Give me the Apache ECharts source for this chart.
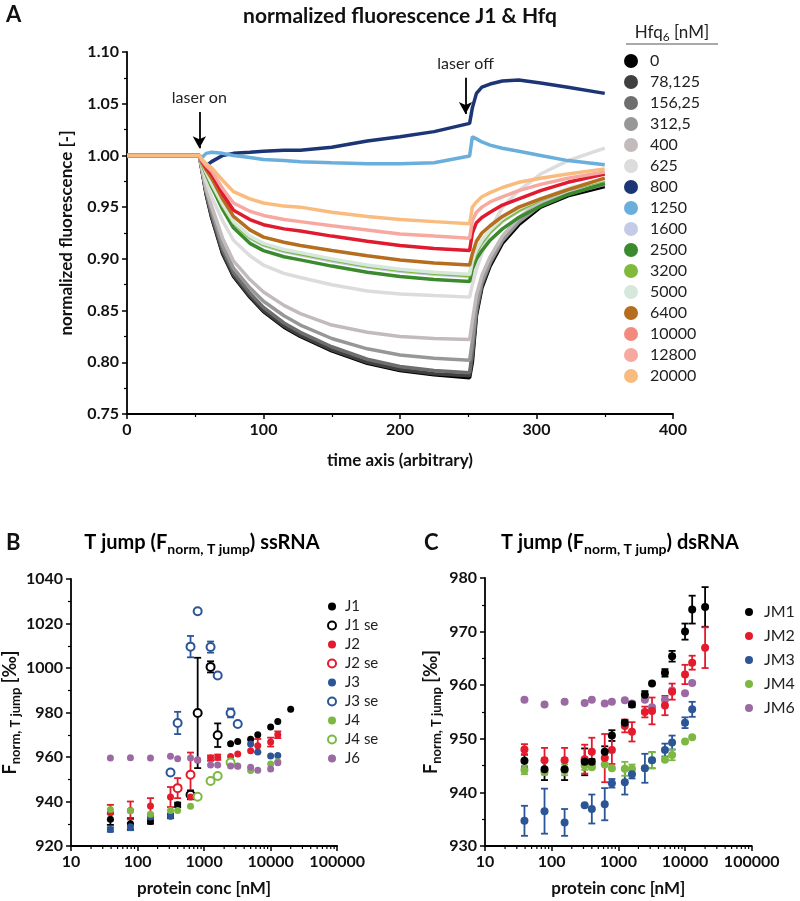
<!DOCTYPE html>
<html>
<head>
<meta charset="utf-8">
<title>T jump</title>
<script src="https://cdn.jsdelivr.net/npm/echarts@6/dist/echarts.min.js"></script>
<style>
  html, body { margin: 0; padding: 0; background: #fff; }
  #main { width: 800px; height: 901px; }
</style>
</head>
<body>
<div id="main"></div>
<script>
// ---- panel A: normalized fluorescence vs time, one array per Hfq6 concentration
var tA = [0, 20, 40, 53, 55, 58, 62, 70, 78, 90, 100, 115, 127, 150, 176, 200, 225, 251, 253, 256, 260, 266, 275, 287, 303, 323, 350];
var hfqNames = ['0', '78,125', '156,25', '312,5', '400', '625', '800', '1250', '1600', '2500', '3200', '5000', '6400', '10000', '12800', '20000'];
var hfqColors = ['#000000', '#404040', '#6e6e6e', '#979797', '#c3bbbb', '#dcdcdc', '#1c3574', '#6aaedc', '#c4cbe6', '#3b8a2e', '#80ba3a', '#d6e8dc', '#b56d1e', '#e01b30', '#f7a8a0', '#f9bb7e'];
var f0     = [1.000, 1.000, 1.000, 1.000, 0.985, 0.962, 0.940, 0.905, 0.883, 0.863, 0.849, 0.834, 0.825, 0.811, 0.799, 0.792, 0.788, 0.785, 0.800, 0.845, 0.872, 0.893, 0.915, 0.933, 0.950, 0.961, 0.970];
var f78    = [1.000, 1.000, 1.000, 1.000, 0.985, 0.963, 0.941, 0.906, 0.884, 0.864, 0.850, 0.835, 0.826, 0.812, 0.800, 0.793, 0.789, 0.787, 0.805, 0.848, 0.874, 0.895, 0.917, 0.935, 0.952, 0.963, 0.972];
var f156   = [1.000, 1.000, 1.000, 1.000, 0.986, 0.964, 0.943, 0.909, 0.887, 0.867, 0.853, 0.838, 0.829, 0.815, 0.803, 0.796, 0.792, 0.790, 0.810, 0.850, 0.876, 0.896, 0.918, 0.936, 0.953, 0.964, 0.973];
var f312   = [1.000, 1.000, 1.000, 1.000, 0.986, 0.966, 0.947, 0.913, 0.891, 0.872, 0.859, 0.845, 0.836, 0.823, 0.813, 0.807, 0.804, 0.802, 0.820, 0.855, 0.878, 0.897, 0.918, 0.936, 0.952, 0.963, 0.972];
var f400   = [1.000, 1.000, 1.000, 1.000, 0.987, 0.968, 0.951, 0.920, 0.898, 0.880, 0.868, 0.855, 0.847, 0.836, 0.829, 0.825, 0.823, 0.822, 0.840, 0.865, 0.884, 0.902, 0.922, 0.940, 0.955, 0.966, 0.975];
var f625   = [1.000, 1.000, 1.000, 1.000, 0.990, 0.975, 0.960, 0.937, 0.918, 0.903, 0.894, 0.886, 0.882, 0.875, 0.869, 0.866, 0.8645, 0.863, 0.875, 0.890, 0.905, 0.928, 0.950, 0.966, 0.982, 0.995, 1.007];
var f800   = [1.000, 1.000, 1.000, 1.000, 0.992, 0.990, 0.994, 1.000, 1.002, 1.003, 1.004, 1.005, 1.005, 1.008, 1.014, 1.018, 1.023, 1.031, 1.046, 1.060, 1.066, 1.069, 1.072, 1.073, 1.070, 1.066, 1.060];
var f1250  = [1.000, 1.000, 1.000, 1.000, 0.998, 1.002, 1.003, 1.002, 1.000, 0.998, 0.996, 0.995, 0.994, 0.993, 0.992, 0.992, 0.993, 0.9995, 1.018, 1.016, 1.013, 1.010, 1.007, 1.004, 1.000, 0.995, 0.991];
var f1600  = [1.000, 1.000, 1.000, 1.000, 0.992, 0.983, 0.972, 0.951, 0.934, 0.920, 0.913, 0.907, 0.904, 0.898, 0.892, 0.888, 0.885, 0.883, 0.895, 0.906, 0.915, 0.925, 0.936, 0.946, 0.956, 0.966, 0.975];
var f2500  = [1.000, 1.000, 1.000, 1.000, 0.992, 0.982, 0.970, 0.948, 0.930, 0.915, 0.908, 0.902, 0.899, 0.893, 0.887, 0.883, 0.880, 0.878, 0.890, 0.900, 0.908, 0.918, 0.929, 0.940, 0.951, 0.962, 0.973];
var f3200  = [1.000, 1.000, 1.000, 1.000, 0.992, 0.983, 0.972, 0.952, 0.935, 0.921, 0.914, 0.908, 0.905, 0.899, 0.893, 0.889, 0.886, 0.884, 0.896, 0.907, 0.916, 0.926, 0.937, 0.947, 0.957, 0.967, 0.976];
var f5000  = [1.000, 1.000, 1.000, 1.000, 0.993, 0.984, 0.973, 0.953, 0.936, 0.922, 0.915, 0.909, 0.906, 0.900, 0.894, 0.890, 0.887, 0.885, 0.898, 0.909, 0.918, 0.928, 0.939, 0.949, 0.958, 0.968, 0.977];
var f6400  = [1.000, 1.000, 1.000, 1.000, 0.993, 0.986, 0.978, 0.958, 0.941, 0.928, 0.921, 0.916, 0.913, 0.908, 0.903, 0.899, 0.896, 0.894, 0.905, 0.917, 0.925, 0.932, 0.941, 0.950, 0.958, 0.967, 0.978];
var f10000 = [1.000, 1.000, 1.000, 1.000, 0.994, 0.988, 0.982, 0.963, 0.947, 0.938, 0.933, 0.929, 0.927, 0.922, 0.917, 0.913, 0.910, 0.908, 0.925, 0.935, 0.940, 0.945, 0.952, 0.958, 0.966, 0.974, 0.982];
var f12800 = [1.000, 1.000, 1.000, 1.000, 0.995, 0.990, 0.985, 0.968, 0.954, 0.946, 0.942, 0.938, 0.936, 0.932, 0.928, 0.924, 0.922, 0.920, 0.937, 0.945, 0.950, 0.955, 0.960, 0.966, 0.972, 0.978, 0.984];
var f20000 = [1.000, 1.000, 1.000, 1.000, 0.996, 0.992, 0.988, 0.976, 0.965, 0.958, 0.954, 0.951, 0.950, 0.945, 0.941, 0.938, 0.936, 0.934, 0.950, 0.955, 0.960, 0.964, 0.969, 0.974, 0.978, 0.982, 0.987];
var curvesA = [f0, f78, f156, f312, f400, f625, f800, f1250, f1600, f2500, f3200, f5000, f6400, f10000, f12800, f20000];

// ---- panels B and C: concentrations [nM]
var conc = [39.0625, 78.125, 156.25, 312.5, 400, 625, 800, 1250, 1600, 2500, 3200, 5000, 6400, 10000, 12800, 20000];

// B ssRNA
var j1      = [932, 930, 931, 933.5, 938.5, null, null, null, null, 966, 967, 968, 970, 973.5, 976, 981.5];
var j1Err   = [2.5, 2.5, 1, 1, 1, 0, 0, 0, 0, 0, 0, 0, 0, 0, 0, 0];
var j1se    = [null, null, null, null, null, 943, 979.8, 1000.5, 969.8, null, null, null, null, null, null, null];
var j1seErr = [0, 0, 0, 0, 0, 2, 24.8, 2.5, 5.3, 0, 0, 0, 0, 0, 0, 0];
var j2      = [935, 936, 938, 942, null, 942, 958.5, 959.5, 959.9, 960.2, 961.4, 962.8, 965.1, 966.7, 970, null];
var j2Err   = [3.5, 4, 3.5, 4.5, 0, 0, 0, 1.2, 1.2, 0, 0, 0, 3, 2, 1.5, 0];
var j2se    = [null, null, null, null, 946, 952, null, null, null, null, null, null, null, null, null, null];
var j2seErr = [0, 0, 0, 0, 4.5, 10, 0, 0, 0, 0, 0, 0, 0, 0, 0, 0];
var j3      = [927.4, 928.6, 933, 933.5, null, null, null, null, null, null, null, 965.8, 962.2, 960.5, 960.7, null];
var j3Err   = [1, 1.5, 1, 1, 0, 0, 0, 0, 0, 0, 0, 0, 0, 0, 0, 0];
var j3se    = [null, null, null, 953, 975.3, 1009.6, 1025.5, 1009.4, 996.6, 979.8, 974.8, null, null, null, null, null];
var j3seErr = [0, 0, 0, 0, 5, 4.8, 0, 2.5, 0, 2, 0, 0, 0, 0, 0, 0];
var j4      = [936.4, 935.8, 934.3, 936, 936, 937.9, null, null, null, null, 956, 953.9, null, 956.9, 957.9, null];
var j4se    = [null, null, null, null, null, null, 942.1, 949.2, 951.5, 957.5, null, null, null, null, null, null];
var j6      = [959.6, 959.7, 959.6, 960.3, 959.2, 959.6, 958.8, 956.4, 956.4, 956, 955.8, 955.4, 954.1, 954.6, 957.4, null];

// C dsRNA
var jm1    = [945.9, 944.3, 944.3, 945.7, 945.7, 947.6, 950.6, 953, 956.4, 958.2, 960.3, 962.3, 965.4, 970, 974.1, 974.6];
var jm1Err = [1.2, 2, 2, 2.5, 0.5, 1, 1, 0.5, 0.5, 0.7, 0, 0.7, 1, 1.5, 2.6, 3.7];
var jm2    = [948, 946, 946, 946.2, 947.6, 946.4, 947.9, 952.4, 951.3, 955, 955.2, 956.2, 958.8, 962, 964.2, 967];
var jm2Err = [1, 2.3, 2.3, 2.7, 2.6, 4.5, 2.6, 1.2, 1.8, 1, 2.5, 1.8, 1.5, 1.8, 1.3, 3.8];
var jm3    = [934.7, 936.5, 934.4, 937.6, 936.9, 937.8, 941.7, 941.9, 943.4, 944.5, 946, 947.9, 949.3, 953, 955.5, null];
var jm3Err = [2.8, 4.2, 2.5, 0, 2.7, 3, 0.8, 2.3, 0.8, 2.7, 1.5, 1.2, 1.3, 1, 1.4, 0];
var jm4    = [944.2, 943.8, 944.2, 945, 944.7, 945.2, 944.5, 944.4, 944.4, 944.5, 946, 946.1, 947, 949.5, 950.3, null];
var jm4Err = [0.8, 0.5, 1, 0.8, 0.3, 0, 0, 1.3, 0.8, 0, 1.5, 0, 1, 0, 0, 0];
var jm6    = [957.3, 956.4, 956.9, 956.7, 957.3, 956.6, 956.9, 957.2, 956.6, 957.3, 955.9, 957.3, 959, 958.5, 960.4, null];

var BLACK = '#000000', RED = '#e31b2d', BLUE = '#2b5597', GREEN = '#7db843', PURPLE = '#9b6aa3';
var FONT = 'Lato';

function pts(vals) {
  var out = [];
  conc.forEach(function (c, i) { if (vals[i] != null) out.push([c, vals[i]]); });
  return out;
}
function errPts(vals, errs) {
  var out = [];
  conc.forEach(function (c, i) {
    if (vals[i] != null && errs[i] > 0) out.push([c, vals[i] - errs[i], vals[i] + errs[i]]);
  });
  return out;
}
function errSeries(grid, vals, errs, color) {
  return {
    type: 'custom', xAxisIndex: grid, yAxisIndex: grid, z: 3, silent: true,
    data: errPts(vals, errs),
    renderItem: function (params, api) {
      var hi = api.coord([api.value(0), api.value(2)]);
      var lo = api.coord([api.value(0), api.value(1)]);
      var w = 3.5;
      var st = { stroke: color, lineWidth: 1.8 };
      return { type: 'group', children: [
        { type: 'line', shape: { x1: hi[0], y1: hi[1], x2: lo[0], y2: lo[1] }, style: st },
        { type: 'line', shape: { x1: hi[0] - w, y1: hi[1], x2: hi[0] + w, y2: hi[1] }, style: st },
        { type: 'line', shape: { x1: lo[0] - w, y1: lo[1], x2: lo[0] + w, y2: lo[1] }, style: st }
      ] };
    }
  };
}
function dotSeries(grid, name, vals, color, size) {
  return { type: 'scatter', name: name, xAxisIndex: grid, yAxisIndex: grid, z: 4,
    symbol: 'circle', symbolSize: size, itemStyle: { color: color, opacity: 1 }, data: pts(vals) };
}
function ringSeries(grid, name, vals, color) {
  return { type: 'scatter', name: name, xAxisIndex: grid, yAxisIndex: grid, z: 4,
    symbol: 'circle', symbolSize: 8,
    itemStyle: { color: '#fff', borderColor: color, borderWidth: 2, opacity: 1 }, data: pts(vals) };
}
// minor ticks 2..9 per decade on the log axes
var logMinor = [];
[10, 100, 1000, 10000].forEach(function (d) { for (var k = 2; k <= 9; k++) logMinor.push(k * d); });
function logMinorSeries(grid, ymin) {
  return {
    type: 'custom', xAxisIndex: grid, yAxisIndex: grid, silent: true, clip: false,
    data: logMinor.map(function (v) { return [v, ymin]; }),
    renderItem: function (params, api) {
      var p = api.coord([api.value(0), api.value(1)]);
      return { type: 'line', shape: { x1: p[0], y1: p[1], x2: p[0], y2: p[1] + 3 }, style: { stroke: '#000', lineWidth: 1.2 } };
    }
  };
}

var LABEL = { color: '#111', fontFamily: FONT, fontWeight: 'bold', fontSize: 16 };
function axisBase(extra) {
  var a = {
    axisLine: { lineStyle: { color: '#000', width: 1.8 } },
    axisTick: { lineStyle: { color: '#000', width: 1.5 }, length: 5 },
    minorTick: { show: true, splitNumber: 2, length: 3, lineStyle: { color: '#000', width: 1.2 } },
    splitLine: { show: false },
    axisLabel: LABEL,
    nameTextStyle: { color: '#111', fontFamily: FONT, fontWeight: 'bold', fontSize: 17 }
  };
  for (var k in extra) a[k] = extra[k];
  return a;
}

var subRich = {
  m: { fontFamily: FONT, fontWeight: 'bold', fontSize: 18, color: '#111', lineHeight: 24, verticalAlign: 'middle' },
  s: { fontFamily: FONT, fontWeight: 'bold', fontSize: 13, color: '#111', lineHeight: 13, verticalAlign: 'bottom' }
};
var titleRich = {
  m: { fontFamily: FONT, fontWeight: 'bold', fontSize: 20, color: '#111', lineHeight: 26, verticalAlign: 'middle' },
  s: { fontFamily: FONT, fontWeight: 'bold', fontSize: 14, color: '#111', lineHeight: 14, verticalAlign: 'bottom' }
};

var series = [];
curvesA.forEach(function (vals, k) {
  series.push({
    type: 'line', name: hfqNames[k], xAxisIndex: 0, yAxisIndex: 0,
    showSymbol: false, symbol: 'circle', smooth: false,
    lineStyle: { width: 3.5, color: hfqColors[k] }, itemStyle: { color: hfqColors[k] },
    data: tA.map(function (t, i) { return [t, vals[i]]; })
  });
});
// laser annotations
series[6].markLine = {
  silent: true, symbol: ['none', 'arrow'], symbolSize: [10, 12],
  lineStyle: { color: '#000', width: 1.8, type: 'solid' },
  label: { position: 'start', distance: 6, color: '#222', fontFamily: FONT, fontSize: 16 },
  data: [
    [{ coord: [53, 1.042], label: { formatter: 'laser on' } }, { coord: [53, 1.007] }],
    [{ coord: [248, 1.075], label: { formatter: 'laser off' } }, { coord: [248, 1.040] }]
  ]
};

// panel B
series.push(logMinorSeries(1, 920));
series.push(errSeries(1, j1, j1Err, BLACK), errSeries(1, j1se, j1seErr, BLACK),
  errSeries(1, j2, j2Err, RED), errSeries(1, j2se, j2seErr, RED),
  errSeries(1, j3, j3Err, BLUE), errSeries(1, j3se, j3seErr, BLUE));
series.push(dotSeries(1, 'J1', j1, BLACK, 7), ringSeries(1, 'J1 se', j1se, BLACK),
  dotSeries(1, 'J2', j2, RED, 7), ringSeries(1, 'J2 se', j2se, RED),
  dotSeries(1, 'J3', j3, BLUE, 7), ringSeries(1, 'J3 se', j3se, BLUE),
  dotSeries(1, 'J4', j4, GREEN, 7), ringSeries(1, 'J4 se', j4se, GREEN),
  dotSeries(1, 'J6', j6, PURPLE, 7));

// panel C
series.push(logMinorSeries(2, 930));
series.push(errSeries(2, jm1, jm1Err, BLACK), errSeries(2, jm2, jm2Err, RED),
  errSeries(2, jm3, jm3Err, BLUE), errSeries(2, jm4, jm4Err, GREEN));
series.push(dotSeries(2, 'JM6', jm6, PURPLE, 8), dotSeries(2, 'JM4', jm4, GREEN, 8),
  dotSeries(2, 'JM3', jm3, BLUE, 8), dotSeries(2, 'JM2', jm2, RED, 8), dotSeries(2, 'JM1', jm1, BLACK, 8));

function plainNum(v) { return String(Math.round(v)); }
function logAxis(grid) {
  return axisBase({
    gridIndex: grid, type: 'log', logBase: 10, min: 10, max: 100000,
    minorTick: { show: false },
    name: 'protein conc [nM]', nameLocation: 'middle', nameGap: 34,
    axisLabel: { color: '#111', fontFamily: FONT, fontWeight: 'bold', fontSize: 16, margin: 8, formatter: plainNum }
  });
}
function valLabel(fmt) {
  return { color: '#111', fontFamily: FONT, fontWeight: 'bold', fontSize: 16, formatter: fmt };
}

var option = {
  backgroundColor: '#fff',
  animation: false,
  grid: [
    { left: 127, top: 52, width: 546, height: 362 },
    { left: 70.5, top: 579, width: 266.7, height: 267 },
    { left: 485, top: 578, width: 266.7, height: 268 }
  ],
  xAxis: [
    axisBase({ gridIndex: 0, type: 'value', min: 0, max: 400, interval: 100,
      name: 'time axis (arbitrary)', nameLocation: 'middle', nameGap: 38 }),
    logAxis(1),
    logAxis(2)
  ],
  yAxis: [
    axisBase({ gridIndex: 0, type: 'value', min: 0.75, max: 1.10, interval: 0.05,
      axisLabel: valLabel(function (v) { return v.toFixed(2); }),
      name: 'normalized fluorescence [-]', nameLocation: 'middle', nameGap: 52 }),
    axisBase({ gridIndex: 1, type: 'value', min: 920, max: 1040, interval: 20,
      axisLabel: valLabel(plainNum),
      name: '{m|F}{s|norm, T jump}{m| [‰]}', nameLocation: 'middle', nameGap: 46,
      nameTextStyle: { rich: subRich } }),
    axisBase({ gridIndex: 2, type: 'value', min: 930, max: 980, interval: 10,
      axisLabel: valLabel(plainNum),
      name: '{m|F}{s|norm, T jump}{m| [‰]}', nameLocation: 'middle', nameGap: 42,
      nameTextStyle: { rich: subRich } })
  ],
  legend: [
    {
      orient: 'vertical', left: 619, top: 48, itemWidth: 28, itemHeight: 14, itemGap: 5,
      icon: 'circle', selectedMode: false,
      textStyle: { fontFamily: FONT, fontSize: 16, color: '#222' },
      data: hfqNames.map(function (n, k) {
        return { name: n, itemStyle: { color: k === 13 ? '#f28a7e' : hfqColors[k] } };
      })
    },
    {
      orient: 'vertical', left: 322, top: 594, itemWidth: 16, itemHeight: 8, itemGap: 4,
      selectedMode: false,
      textStyle: { fontFamily: FONT, fontSize: 15, color: '#222' },
      data: ['J1', 'J1 se', 'J2', 'J2 se', 'J3', 'J3 se', 'J4', 'J4 se', 'J6']
    },
    {
      orient: 'vertical', left: 740, top: 599, itemWidth: 20, itemHeight: 8, itemGap: 8,
      selectedMode: false,
      textStyle: { fontFamily: FONT, fontSize: 16, color: '#222' },
      data: ['JM1', 'JM2', 'JM3', 'JM4', 'JM6']
    }
  ],
  graphic: [
    { type: 'text', x: 6, y: 15, style: { text: 'A', font: 'bold 22px ' + FONT, fill: '#111', verticalAlign: 'middle' } },
    { type: 'text', x: 400, y: 16, style: { text: 'normalized fluorescence J1 & Hfq', font: 'bold 21px ' + FONT, fill: '#111', align: 'center', verticalAlign: 'middle' } },
    { type: 'text', x: 672, y: 33, style: { text: '{m|Hfq}{s|6}{m| [nM]}', align: 'center', verticalAlign: 'middle',
      rich: { m: { fontFamily: FONT, fontSize: 17, fill: '#222', lineHeight: 20, verticalAlign: 'middle' },
              s: { fontFamily: FONT, fontSize: 12, fill: '#222', lineHeight: 12, verticalAlign: 'bottom' } } } },
    { type: 'line', shape: { x1: 626, y1: 44, x2: 718, y2: 44 }, style: { stroke: '#555', lineWidth: 1.2 } },
    { type: 'text', x: 6, y: 543, style: { text: 'B', font: 'bold 22px ' + FONT, fill: '#111', verticalAlign: 'middle' } },
    { type: 'text', x: 202, y: 543, style: { text: '{m|T jump (F}{s|norm, T jump}{m|) ssRNA}', align: 'center', verticalAlign: 'middle', rich: titleRich } },
    { type: 'text', x: 424, y: 543, style: { text: 'C', font: 'bold 22px ' + FONT, fill: '#111', verticalAlign: 'middle' } },
    { type: 'text', x: 620, y: 543, style: { text: '{m|T jump (F}{s|norm, T jump}{m|) dsRNA}', align: 'center', verticalAlign: 'middle', rich: titleRich } }
  ],
  series: series
};

var chart = echarts.init(document.getElementById('main'), null, { renderer: 'canvas' });
chart.setOption(option);
</script>
</body>
</html>
